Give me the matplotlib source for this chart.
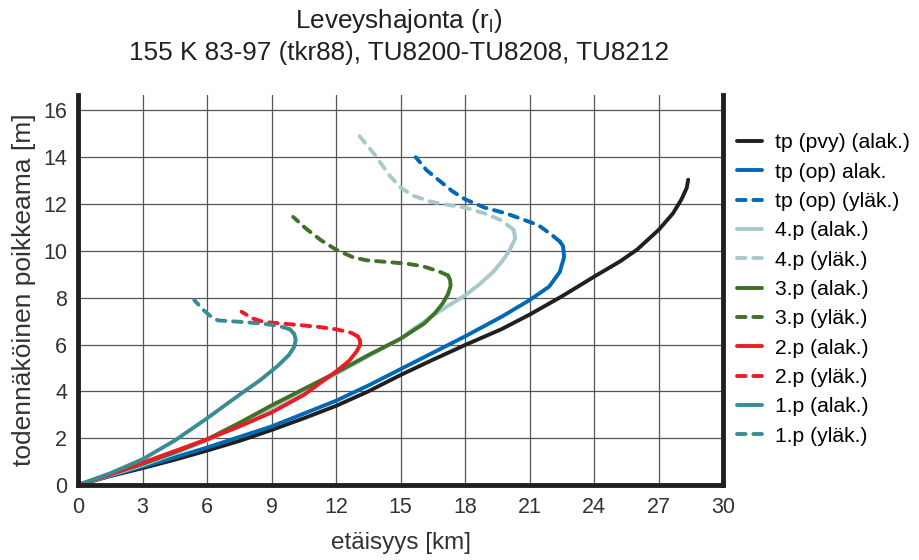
import matplotlib
matplotlib.use("Agg")
import matplotlib.pyplot as plt

plt.rcParams['font.family'] = ['Liberation Sans', 'DejaVu Sans']

# luetut arvot kuvasta
black_x = [0, 1.5, 3, 4.5, 6, 7.5, 9, 10.5, 12, 13.5, 15, 16.5, 18, 19.7, 21, 22.5, 24, 25.2, 26.0, 27.0, 27.66, 28.05, 28.3, 28.37]
black_y = [0, 0.38, 0.72, 1.08, 1.47, 1.88, 2.35, 2.85, 3.38, 4.0, 4.7, 5.35, 5.98, 6.66, 7.28, 8.06, 8.9, 9.55, 10.06, 10.9, 11.6, 12.19, 12.69, 13.04]

blue_x = [0, 1.5, 3, 4.5, 6, 7.5, 9, 10.5, 12, 13.5, 15, 16.5, 18, 19.7, 21, 21.9, 22.4, 22.6, 22.55, 22.4]
blue_y = [0, 0.4, 0.78, 1.18, 1.6, 2.05, 2.5, 3.05, 3.6, 4.25, 4.95, 5.65, 6.35, 7.19, 7.9, 8.47, 9.1, 9.74, 10.2, 10.4]
blue_up_x = [22.4, 22.0, 21.4, 20.6, 19.9, 18.9, 18.0, 17.4, 16.8, 16.2, 15.7]
blue_up_y = [10.4, 10.7, 11.1, 11.37, 11.6, 11.85, 12.2, 12.55, 13.0, 13.45, 14.0]

p4_x = [0, 1.5, 3, 4.5, 6, 7.5, 9, 10.5, 12, 13.5, 15, 15.5, 16.4, 17.2, 18, 18.7, 19.3, 19.7, 20.05, 20.33, 20.25]
p4_y = [0, 0.42, 0.85, 1.35, 1.9, 2.55, 3.3, 4.0, 4.75, 5.5, 6.25, 6.6, 7.18, 7.65, 8.1, 8.6, 9.1, 9.54, 10.0, 10.54, 10.9]
p4_up_x = [20.25, 19.7, 18.9, 18.0, 17.3, 16.4, 15.6, 15.0, 14.5, 13.8, 13.0]
p4_up_y = [10.9, 11.3, 11.6, 11.85, 11.95, 12.1, 12.35, 12.7, 13.2, 14.1, 15.0]

p3_x = [0, 1.5, 3, 4.5, 6, 7.5, 9, 10.5, 12, 13.5, 15, 16.1, 16.6, 16.95, 17.2, 17.32, 17.3, 17.2]
p3_y = [0, 0.45, 0.9, 1.4, 1.95, 2.65, 3.4, 4.1, 4.8, 5.55, 6.25, 6.9, 7.35, 7.75, 8.15, 8.5, 8.75, 8.95]
p3_up_x = [17.2, 16.7, 16.0, 15.3, 14.3, 13.4, 12.8, 12.0, 11.3, 10.6, 10.0]
p3_up_y = [8.95, 9.15, 9.35, 9.45, 9.53, 9.6, 9.72, 10.05, 10.45, 10.95, 11.45]

p2_x = [0, 1.5, 3, 4.5, 6, 7.5, 9, 10.5, 12, 12.6, 12.95, 13.12, 13.1, 13.0]
p2_y = [0, 0.45, 0.95, 1.45, 1.95, 2.5, 3.1, 3.85, 4.85, 5.3, 5.7, 6.0, 6.2, 6.35]
p2_up_x = [13.0, 12.7, 12.0, 11.2, 10.3, 9.4, 8.6, 8.1, 7.6]
p2_up_y = [6.35, 6.5, 6.65, 6.75, 6.83, 6.9, 6.97, 7.12, 7.4]

p1_x = [0, 1.5, 3, 4.5, 6, 7.5, 8.5, 9.3, 9.8, 10.05, 10.12, 10.05, 9.85]
p1_y = [0, 0.5, 1.1, 1.9, 2.85, 3.85, 4.5, 5.1, 5.55, 5.9, 6.2, 6.45, 6.65]
p1_up_x = [9.85, 9.3, 8.5, 7.5, 6.5, 6.1, 5.8, 5.4]
p1_up_y = [6.65, 6.8, 6.9, 6.97, 7.03, 7.25, 7.5, 7.9]

c_black = '#231f20'
c_blue = '#0068b4'
c_light = '#a9c8cc'
c_green = '#3f7128'
c_red = '#ed1c24'
c_teal = '#3a8c94'

fig = plt.figure(figsize=(9.19, 5.6), dpi=100)
ax = fig.add_axes([0.085, 0.134, 0.702, 0.696])

lw = 2.8
dash = (0, (2.2, 2.0))
kw = dict(lw=lw, solid_capstyle='round', dash_capstyle='round', solid_joinstyle='round')

ax.plot(black_x, black_y, color=c_black, label='tp (pvy) (alak.)', **kw)
ax.plot(blue_x, blue_y, color=c_blue, label='tp (op) alak.', **kw)
ax.plot(blue_up_x, blue_up_y, color=c_blue, ls=dash, label='tp (op) (yläk.)', **kw)
ax.plot(p4_x, p4_y, color=c_light, label='4.p (alak.)', **kw)
ax.plot(p4_up_x, p4_up_y, color=c_light, ls=dash, label='4.p (yläk.)', **kw)
ax.plot(p3_x, p3_y, color=c_green, label='3.p (alak.)', **kw)
ax.plot(p3_up_x, p3_up_y, color=c_green, ls=dash, label='3.p (yläk.)', **kw)
ax.plot(p2_x, p2_y, color=c_red, label='2.p (alak.)', **kw)
ax.plot(p2_up_x, p2_up_y, color=c_red, ls=dash, label='2.p (yläk.)', **kw)
ax.plot(p1_x, p1_y, color=c_teal, label='1.p (alak.)', **kw)
ax.plot(p1_up_x, p1_up_y, color=c_teal, ls=dash, label='1.p (yläk.)', **kw)

ax.set_xlim(0, 30)
ax.set_ylim(0, 16.65)
ax.set_xticks(range(0, 31, 3))
ax.set_yticks(range(0, 17, 2))
ax.grid(True, color='#555555', lw=0.9)
ax.set_axisbelow(True)
ax.tick_params(length=0, labelsize=15.5, colors='#333333')
ax.tick_params(axis='x', pad=9)
ax.tick_params(axis='y', pad=8)

for s in ['left', 'bottom', 'right']:
    ax.spines[s].set_linewidth(3.5)
    ax.spines[s].set_color(c_black)
ax.spines['top'].set_visible(False)

ax.set_xlabel('etäisyys [km]', fontsize=17.5, color='#333333', labelpad=10)
ax.set_ylabel('todennäköinen poikkeama [m]', fontsize=19, color='#333333', labelpad=5)

fig.text(0.434, 0.962, r'Leveyshajonta (r$_\mathregular{l}$)', ha='center', va='center', fontsize=18.8, color=c_black)
fig.text(0.434, 0.906, '155 K 83-97 (tkr88), TU8200-TU8208, TU8212', ha='center', va='center', fontsize=18.8, color=c_black)

ax.legend(loc='upper left', bbox_to_anchor=(0.998, 0.94), frameon=False, fontsize=15.2,
          handlelength=1.2, handletextpad=0.62, labelspacing=0.49, borderaxespad=0.3)

fig.savefig('out.png', dpi=100)
